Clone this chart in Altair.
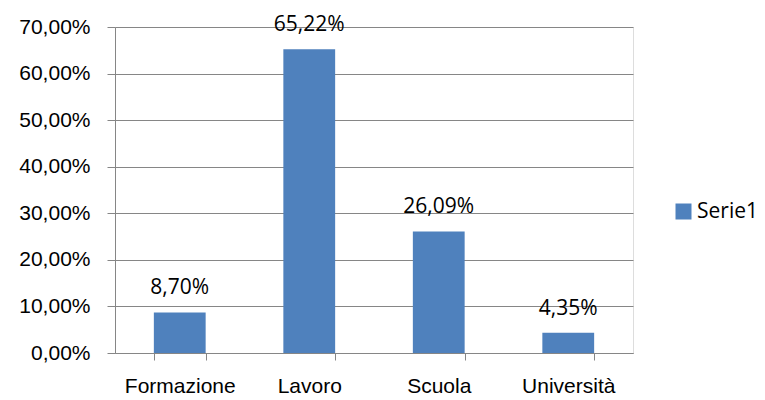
import altair as alt
import pandas as pd

categories = ["Formazione", "Lavoro", "Scuola", "Università"]
values = [0.0870, 0.6522, 0.2609, 0.0435]
series = ["Serie1"] * 4

df = pd.DataFrame({"cat": categories, "val": values, "serie": series})
df["label"] = [f"{v*100:.2f}%".replace(".", ",") for v in values]

FONT = "Open Sans"
FS = 21
GRID = "#868686"

base = alt.Chart(df)

bars = base.mark_bar(color="#4F81BD").encode(
    x=alt.X("cat:N", sort=categories, title=None,
            scale=alt.Scale(paddingInner=0.6, paddingOuter=0.3),
            axis=alt.Axis(labelAngle=0, tickBand="extent", labelFontSize=FS,
                          labelPadding=15, tickSize=7, labelColor="#000000",
                          domainColor=GRID, tickColor=GRID, grid=False)),
    y=alt.Y("val:Q", title=None,
            scale=alt.Scale(domain=[0, 0.7], nice=False),
            axis=alt.Axis(values=[0, 0.1, 0.2, 0.3, 0.4, 0.5, 0.6, 0.7],
                          labelExpr="replace(format(datum.value, '.2%'), '.', ',')",
                          labelFontSize=FS, labelPadding=17, tickSize=8,
                          labelColor="#000000", domainColor=GRID, tickColor=GRID,
                          grid=True, gridColor=GRID)),
    fill=alt.Fill("serie:N", scale=alt.Scale(range=["#4F81BD"]),
                  legend=alt.Legend(title=None, orient="none", legendX=558, legendY=174,
                                    symbolType="square", symbolSize=256,
                                    symbolStrokeWidth=0, labelFontSize=FS,
                                    labelFont=FONT, padding=0, labelOffset=3)),
)

text = base.mark_text(baseline="alphabetic", dy=-18, fontSize=FS, font=FONT, color="#000000").encode(
    x=alt.X("cat:N", sort=categories),
    y="val:Q",
    text="label:N",
)

chart = (bars + text).properties(
    width=518, height=326,
    autosize=alt.AutoSizeParams(type="none"),
    padding={"left": 107, "top": 19, "right": 124, "bottom": 46},
).configure_view(stroke=None).configure_axis(labelFont=FONT).configure(background="white")

chart.save("out.html", embed_options={"renderer": "svg", "actions": False})
